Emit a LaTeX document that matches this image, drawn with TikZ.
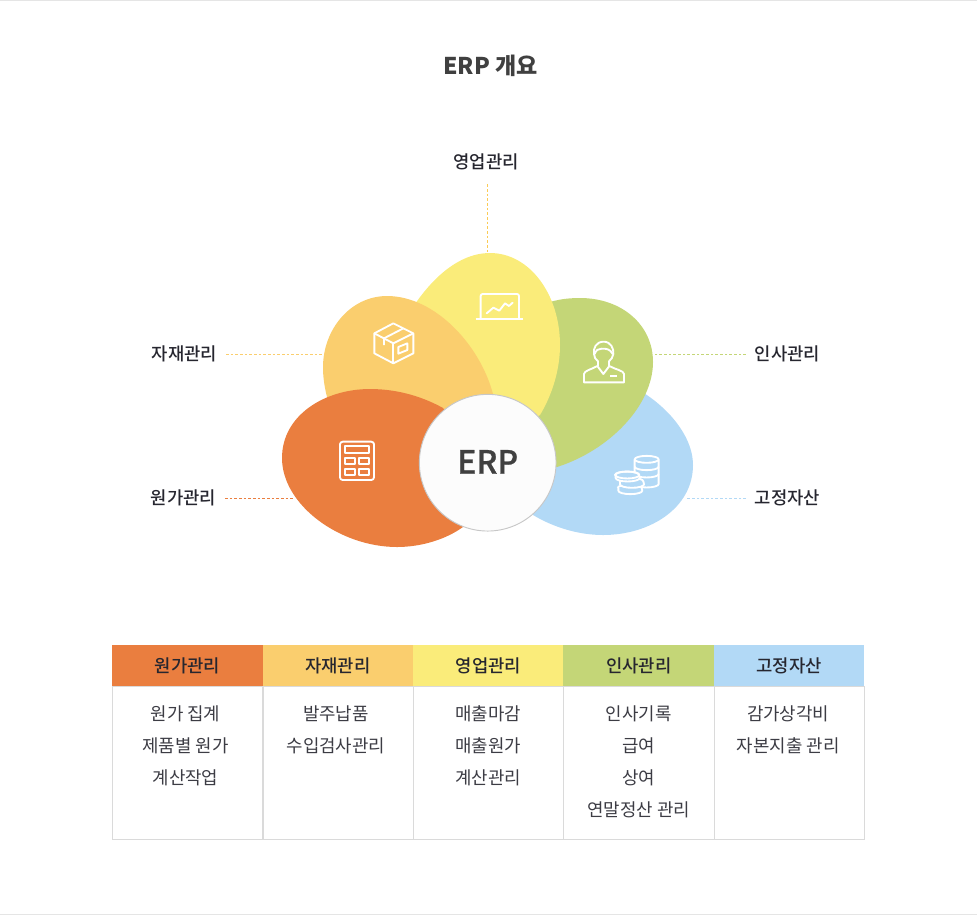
\documentclass[tikz,border=0pt]{standalone}
\usepackage{fontspec}
\setmainfont{Noto Sans CJK KR}
\newfontfamily\krmed{Noto Sans CJK KR Medium}
\newfontfamily\krerp{Noto Sans CJK KR Medium}[FakeBold=0.8]
\usetikzlibrary{calc}
\definecolor{costc}{HTML}{EA7E3F}
\definecolor{matc}{HTML}{FACE6E}
\definecolor{salesc}{HTML}{FAEC7A}
\definecolor{hrc}{HTML}{C4D677}
\definecolor{assetc}{HTML}{B2D9F6}
\definecolor{inkc}{HTML}{26262F}
\definecolor{rulec}{HTML}{DADADA}
\tikzset{
  lbl/.style={font=\krmed\fontsize{13.3}{14}\selectfont, text=inkc, inner xsep=6.5pt, inner ysep=3pt},
  leader/.style={line width=0.5pt, dash pattern=on 2pt off 1.5pt},
  icon/.style={draw=white, line width=1.4pt, line join=round},
  hdr/.style={font=\krmed\fontsize{13.3}{14}\selectfont, text=inkc, anchor=north west, inner sep=0pt,
    minimum width=112.9pt, minimum height=30.75pt},
  cell/.style={draw=rulec, line width=0.8pt, anchor=north west, inner sep=0pt,
    minimum width=112.9pt, minimum height=114.75pt},
  body/.style={font=\fontsize{13.4}{24}\selectfont, text=inkc!90!white, align=center, anchor=north, inner sep=0pt},
}
\begin{document}
\begin{tikzpicture}[x=0.75pt, y=-0.75pt]
  \useasboundingbox (0,0) rectangle (977,915);
  \def\colw{150.4}
  \def\tabl{112}
  \def\headt{645}
  \def\bodyt{686}

  \draw[rulec!70!white] (0,0.5) -- (977,0.5);
  \draw[rulec!70!white] (0,914) -- (977,914);

  \node[font=\bfseries\fontsize{17.3}{20}\selectfont, text=black!75] (title) at (490.5,66) {ERP 개요};

  % petals, back to front
  \fill[assetc] (620,380) .. controls (665,400) and (693,435) .. (693,465)
    .. controls (693,508) and (650,535) .. (603,535)
    .. controls (578,535) and (553,527) .. (533,515) -- (500,440) -- cycle;
  \fill[hrc] (540,305) .. controls (555,300) and (565,298) .. (580,298)
    .. controls (622,298) and (653,325) .. (653,362)
    .. controls (653,405) and (610,450) .. (557,467) -- (500,440) -- cycle;
  \fill[salesc] (405,320) .. controls (425,285) and (455,253) .. (490,253)
    .. controls (530,253) and (560,295) .. (560,345)
    .. controls (560,370) and (552,395) .. (540,415) -- (490,440) -- cycle;
  \fill[matc] (387,296) .. controls (435,296) and (480,345) .. (493,394)
    -- (493,430) -- (335,420) -- (327,397)
    .. controls (324,385) and (323,376) .. (323,367)
    .. controls (323,330) and (350,296) .. (387,296) -- cycle;
  \fill[costc] (282,458) .. controls (282,415) and (325,389) .. (370,389)
    .. controls (400,389) and (425,398) .. (443,408) -- (480,460) -- (463,527)
    .. controls (445,540) and (420,547) .. (397,547)
    .. controls (340,547) and (282,505) .. (282,458) -- cycle;
  \node[circle, draw=black!22, fill=black!1, line width=0.7pt, minimum size=102.5pt, inner sep=0pt,
    font=\krerp\fontsize{24}{26}\selectfont, text=black!75] (erp) at (487.7,462.7) {\raisebox{1.3pt}{ERP}};

  % labels and their leaders
  \node[lbl] (lsales) at (486,162) {영업관리};
  \node[lbl] (lmat) at (184.5,354) {자재관리};
  \node[lbl] (lhr) at (787.5,354) {인사관리};
  \node[lbl] (lcost) at (183.5,498) {원가관리};
  \node[lbl] (lasset) at (787.5,498) {고정자산};
  \coordinate (psales) at (487,253);
  \coordinate (pmat) at (323,354);
  \coordinate (phr) at (653,354);
  \coordinate (pcost) at (293,498);
  \coordinate (passet) at (687,498);
  \draw[leader, draw=salesc!70!orange] ($(lsales.south -| psales)+(0,10)$) -- (psales);
  \draw[leader, draw=matc] (lmat) -- (pmat);
  \draw[leader, draw=hrc] (lhr) -- (phr);
  \draw[leader, draw=costc] (lcost) -- (pcost);
  \draw[leader, draw=assetc] (lasset) -- (passet);

  % laptop
  \begin{scope}[shift={(460,280)}, x=0.25pt, y=-0.25pt]
    \draw[icon, rounded corners=1.5pt] (62,115) -- (62,42) -- (177,42) -- (177,115);
    \draw[icon] (47,117) -- (190,117);
    \draw[icon, line cap=round] (80,100) -- (100,83) -- (118,92) -- (135,70) -- (147,78) -- (158,68);
  \end{scope}
  % person
  \begin{scope}[shift={(460,280)}, x=0.25pt, y=-0.25pt]
    \draw[icon] (372,307) -- (372,282) .. controls (372,272) and (395,268) .. (412,258)
      -- (430,282) -- (448,258) .. controls (465,268) and (492,272) .. (492,282) -- (492,307) -- cycle;
    \draw[icon] (414,258) -- (414,244) .. controls (408,238) and (401,232) .. (402,222)
      .. controls (399,205) and (408,185) .. (431,185)
      .. controls (452,185) and (462,205) .. (460,222)
      .. controls (460,232) and (452,238) .. (447,244) -- (447,258);
    \draw[icon] (404,222) .. controls (408,210) and (415,206) .. (425,206)
      .. controls (438,206) and (450,206) .. (458,222);
    \draw[icon] (450,288) -- (472,288);
  \end{scope}
  % box
  \begin{scope}[shift={(320,310)}, x=0.25pt, y=-0.25pt]
    \draw[icon] (220,40) -- (280,70) -- (280,130) -- (220,160) -- (163,130) -- (163,70) -- cycle;
    \draw[icon] (163,70) -- (220,100) -- (280,70);
    \draw[icon] (220,100) -- (220,160);
    \draw[icon] (250,55) -- (192,85) -- (192,105);
    \draw[icon] (235,111) -- (262,100) -- (262,120) -- (235,131) -- cycle;
  \end{scope}
  % calculator
  \begin{scope}[shift={(320,310)}, x=0.25pt, y=-0.25pt]
    \draw[icon, rounded corners=2pt] (60,395) rectangle (162,510);
    \draw[icon] (75,408) rectangle (148,430);
    \draw[icon] (75,445) rectangle (105,462);
    \draw[icon] (118,445) rectangle (148,462);
    \draw[icon] (75,477) rectangle (105,495);
    \draw[icon] (118,477) rectangle (148,495);
  \end{scope}
  % coins
  \begin{scope}[shift={(570,330)}, x=0.25pt, y=-0.25pt]
    \def\rx{9pt}
    \def\ry{2.6pt}
    \draw[icon, fill=assetc] (194,388) -- (194,462) arc[start angle=180, end angle=360, x radius=\rx, y radius=\ry] -- (266,388);
    \draw[icon] (194,410) arc[start angle=180, end angle=360, x radius=\rx, y radius=\ry];
    \draw[icon] (194,432) arc[start angle=180, end angle=360, x radius=\rx, y radius=\ry];
    \draw[icon, fill=assetc] (230,388) ellipse[x radius=\rx, y radius=\ry];
    \draw[icon, fill=assetc] (145,474) -- (145,482) arc[start angle=180, end angle=360, x radius=\rx, y radius=\ry] -- (215,474)
      arc[start angle=0, end angle=180, x radius=\rx, y radius=\ry];
    \draw[icon, fill=assetc] (150,454) -- (150,463) arc[start angle=180, end angle=360, x radius=\rx, y radius=\ry] -- (220,454)
      arc[start angle=0, end angle=180, x radius=\rx, y radius=\ry];
    \draw[icon, fill=assetc] (137,435) -- (137,444) arc[start angle=180, end angle=360, x radius=\rx, y radius=\ry] -- (207,435)
      arc[start angle=0, end angle=180, x radius=\rx, y radius=\ry] -- cycle;
    \draw[icon] (172,435) ellipse[x radius=\rx, y radius=\ry];
  \end{scope}

  % table
  \node[hdr, fill=costc] (h1) at (\tabl,\headt) {원가관리};
  \node[hdr, fill=matc] (h2) at (\tabl+\colw,\headt) {자재관리};
  \node[hdr, fill=salesc] (h3) at (\tabl+2*\colw,\headt) {영업관리};
  \node[hdr, fill=hrc] (h4) at (\tabl+3*\colw,\headt) {인사관리};
  \node[hdr, fill=assetc] (h5) at (\tabl+4*\colw,\headt) {고정자산};
  \foreach \k in {0,...,4}
    \node[cell] (c\k) at ({\tabl+\k*\colw},\bodyt) {};
  \node[body] (t1) at ($(h1.south)+(-2,19)$) {원가 집계\\제품별 원가\\계산작업};
  \node[body] (t2) at ($(h2.south)+(-2,19)$) {발주납품\\수입검사관리};
  \node[body] (t3) at ($(h3.south)+(0,19)$) {매출마감\\매출원가\\계산관리};
  \node[body] (t4) at ($(h4.south)+(0,19)$) {인사기록\\급여\\상여\\연말정산 관리};
  \node[body] (t5) at ($(h5.south)+(-1,19)$) {감가상각비\\자본지출 관리};
\end{tikzpicture}
\end{document}
